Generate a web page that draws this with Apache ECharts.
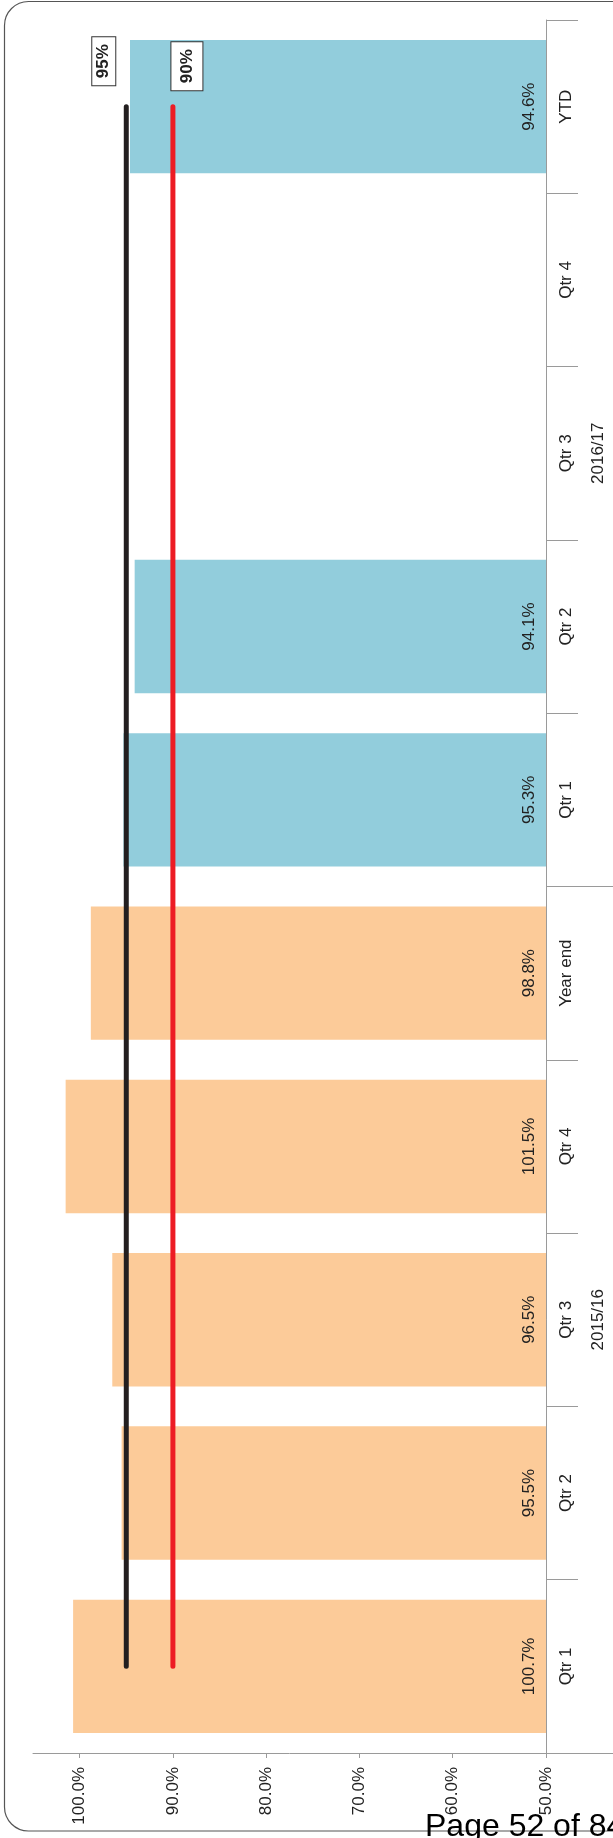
<!DOCTYPE html>
<html>
<head>
<meta charset="utf-8">
<script src="https://cdn.jsdelivr.net/npm/echarts@6.0.0/dist/echarts.min.js"></script>
<style>
  html, body { margin: 0; padding: 0; background: #fff; }
  #chart { width: 613px; height: 1838px; }
</style>
</head>
<body>
<div id="chart"></div>
<script>
// ---- data ----
const categories = ['Qtr 1', 'Qtr 2', 'Qtr 3', 'Qtr 4', 'Year end', 'Qtr 1', 'Qtr 2', 'Qtr 3', 'Qtr 4', 'YTD'];
const groups = ['2015/16', '2016/17'];
const groupOfCategory = [0, 0, 0, 0, 0, 1, 1, 1, 1, 1];
const performance = [100.7, 95.5, 96.5, 101.5, 98.8, 95.3, 94.1, null, null, 94.6];
const target95 = [95, 95, 95, 95, 95, 95, 95, 95, 95, 95];
const target90 = [90, 90, 90, 90, 90, 90, 90, 90, 90, 90];
const targetLabels = ['95%', '90%'];
const valueTicks = [50, 60, 70, 80, 90, 100];
const valueMin = 50;
const valueMax = 105;
const groupColors = ['#FCCB99', '#92CDDC'];
const footerText = 'Page 52 of 84';

// ---- layout / style ----
const FONT = 'Liberation Sans, Arial, Helvetica, sans-serif';
const TEXT = '#222';
const AXIS = '#9a9a9a';
const W = 613, H = 1838;
const G = { left: 33, right: 67, top: 20, bottom: 85 };
const plotH = H - G.top - G.bottom;

const chart = echarts.init(document.getElementById('chart'), null, { renderer: 'canvas', width: W, height: H });

// group grids (second level of the category axis)
const groupGrids = [];
const groupX = [];
const groupY = [];
let startIdx = 0;
groups.forEach(function (g, gi) {
  const count = groupOfCategory.filter(function (v) { return v === gi; }).length;
  const bottomPx = G.bottom + plotH * startIdx / categories.length;
  const topPx = G.top + plotH * (categories.length - startIdx - count) / categories.length;
  startIdx += count;
  groupGrids.push({ left: G.left, right: G.right, top: topPx, bottom: bottomPx, outerBoundsMode: 'none' });
  groupX.push({ gridIndex: gi + 1, type: 'value', show: false, min: 0, max: 1 });
  groupY.push({
    gridIndex: gi + 1, type: 'category', data: [g], position: 'right',
    axisLine: { show: false, onZero: false },
    axisTick: { show: gi === 0, length: 67, lineStyle: { color: AXIS, width: 1 } },
    axisLabel: { rotate: 90, margin: 44, fontSize: 17, color: TEXT, fontFamily: FONT },
    splitLine: { show: false }
  });
});

const barData = performance.map(function (v, i) {
  return { value: v, itemStyle: { color: groupColors[groupOfCategory[i]] } };
});

function targetSeries(name, data, color, labelText, pos, pad) {
  return {
    name: name, type: 'line', xAxisIndex: 0, yAxisIndex: 0, data: data,
    symbol: 'none', z: 5, silent: true,
    lineStyle: { color: color, width: 5, cap: 'round' },
    markPoint: {
      symbol: 'circle', symbolSize: 2, itemStyle: { color: 'rgba(0,0,0,0)' },
      data: [{ coord: [data[data.length - 1], categories.length - 1] }],
      label: {
        show: true, formatter: labelText, position: pos, rotate: 90,
        align: 'center', verticalAlign: 'middle',
        fontSize: 17, fontWeight: 'bold', color: TEXT, fontFamily: FONT, lineHeight: 17,
        backgroundColor: '#fff', borderColor: '#333', borderWidth: 1, padding: pad
      }
    }
  };
}

const option = {
  animation: false,
  textStyle: { fontFamily: FONT },
  grid: [Object.assign({ outerBoundsMode: 'none' }, G)].concat(groupGrids),
  xAxis: [{
    gridIndex: 0, type: 'value', min: valueMin, max: valueMax, inverse: true, position: 'bottom',
    axisLine: { show: true, onZero: false, lineStyle: { color: AXIS, width: 1 } },
    axisTick: { show: true, length: 5, customValues: valueTicks, lineStyle: { color: AXIS } },
    axisLabel: {
      customValues: valueTicks, rotate: 90, margin: 14, fontSize: 17, color: TEXT, fontFamily: FONT,
      formatter: function (v) { return v.toFixed(1) + '%'; }
    },
    splitLine: { show: false }
  }].concat(groupX),
  yAxis: [{
    gridIndex: 0, type: 'category', data: categories, position: 'right',
    axisLine: { show: true, onZero: false, lineStyle: { color: AXIS, width: 1 } },
    axisTick: { show: true, length: 32, interval: 0, lineStyle: { color: AXIS, width: 1 } },
    axisLabel: { interval: 0, rotate: 90, margin: 12, fontSize: 17, color: TEXT, fontFamily: FONT },
    splitLine: { show: false }
  }].concat(groupY),
  series: [
    {
      type: 'bar', xAxisIndex: 0, yAxisIndex: 0, data: barData, barCategoryGap: '23%', z: 2,
      label: {
        show: true, position: 'insideRight', distance: 17, rotate: 90,
        align: 'center', verticalAlign: 'middle',
        fontSize: 17, color: TEXT, fontFamily: FONT,
        formatter: function (p) { return p.value == null ? '' : p.value.toFixed(1) + '%'; }
      }
    },
    targetSeries('95% target', target95, '#231F20', targetLabels[0], [-21.5, -44.5], [3, 7]),
    targetSeries('90% target', target90, '#ED1C24', targetLabels[1], [15, -39.5], [7, 7])
  ],
  graphic: [
    {
      type: 'rect', silent: true, z: 100,
      shape: { x: 4.5, y: 1.5, width: 640, height: 1829.5, r: 24 },
      style: { fill: 'none', stroke: '#555', lineWidth: 1.2 }
    },
    {
      type: 'text', silent: true, z: 101, x: 425, y: 1811,
      style: { text: footerText, font: '32px ' + FONT, fill: '#000', verticalAlign: 'top' }
    }
  ]
};

chart.setOption(option);
</script>
</body>
</html>
